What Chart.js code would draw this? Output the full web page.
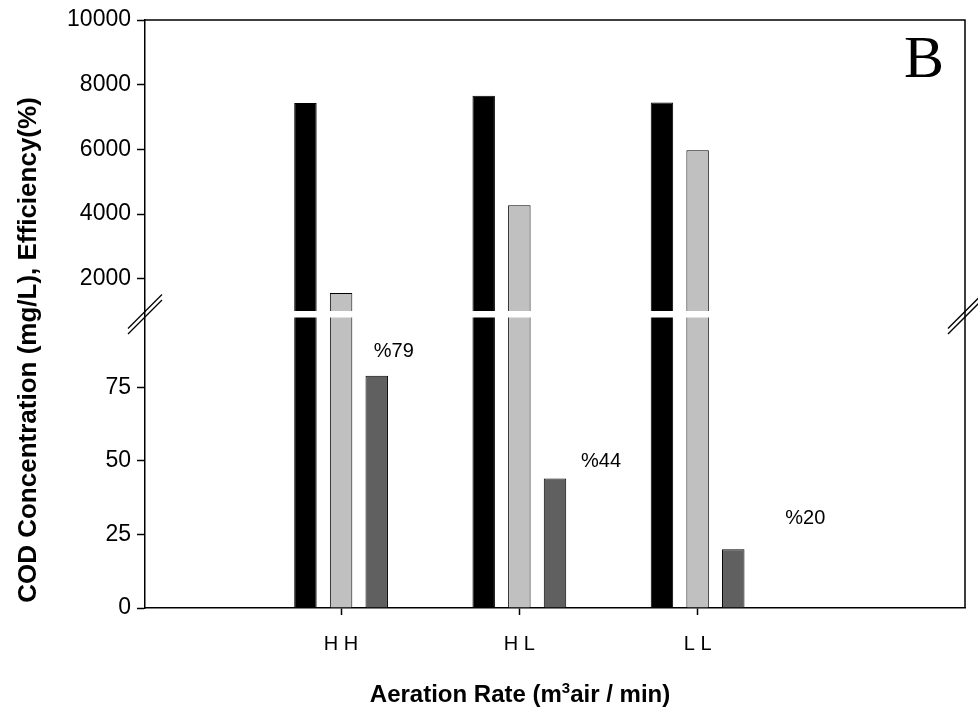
<!DOCTYPE html>
<html>
<head>
<meta charset="utf-8">
<script src="https://cdn.jsdelivr.net/npm/chart.js@4"></script>
<style>
  body { margin: 0; background: #fff; }
  canvas { display: block; }
</style>
</head>
<body>
<canvas id="myChart" width="978" height="713"></canvas>
<script>
// data
var categories = ['H H', 'H L', 'L L'];
var xPos = [1, 2, 3];
var influentCOD = [7430, 7660, 7450];
var effluentCOD = [1560, 4270, 5970];
var removal = [79, 44, 20];
var removalLabels = ['%79', '%44', '%20'];
var upperTicks = [2000, 4000, 6000, 8000, 10000];
var lowerTicks = [0, 25, 50, 75];

// broken axis: lower part 0-101, upper part 1000-10000
var LOW_MAX = 101;
var UP_MIN = 1000;
var UP_MAX = 10000;

// label placement relative to the efficiency bars (px)
var labelDx = [17, 46, 72];
var labelDy = [24, 17, 31];

Chart.defaults.font.family = '"Liberation Sans", Arial, sans-serif';
Chart.defaults.color = '#000';

function points(arr, cap) {
  return xPos.map(function (x, i) {
    return { x: x, y: cap === undefined ? arr[i] : Math.min(arr[i], cap) };
  });
}

var decor = {
  id: 'decor',
  afterDatasetsDraw: function (chart) {
    var ctx = chart.ctx;
    var a = chart.chartArea;
    var brk = chart.scales.y2.bottom;

    ctx.save();
    // white gap through the bars
    ctx.fillStyle = '#fff';
    ctx.fillRect(a.left + 1, brk, a.right - a.left - 2, 6.5);

    // frame top and right
    ctx.strokeStyle = '#000';
    ctx.lineWidth = 1.5;
    ctx.beginPath();
    ctx.moveTo(a.left, a.top);
    ctx.lineTo(a.right, a.top);
    ctx.lineTo(a.right, a.bottom);
    ctx.stroke();

    // break marks on both axes
    ctx.lineWidth = 1.3;
    [a.left, a.right].forEach(function (x) {
      [brk + 0.5, brk + 6].forEach(function (c) {
        ctx.beginPath();
        ctx.moveTo(x - 17, c + 17);
        ctx.lineTo(x + 17, c - 17);
        ctx.stroke();
      });
    });

    // efficiency labels
    var meta = chart.getDatasetMeta(4);
    ctx.fillStyle = '#000';
    ctx.font = '20px "Liberation Sans", Arial, sans-serif';
    ctx.textAlign = 'center';
    ctx.textBaseline = 'middle';
    meta.data.forEach(function (bar, i) {
      ctx.fillText(removalLabels[i], bar.x + labelDx[i], bar.y - labelDy[i]);
    });

    // panel letter
    ctx.font = '60px "Liberation Serif", "Times New Roman", serif';
    ctx.textAlign = 'left';
    ctx.textBaseline = 'alphabetic';
    ctx.fillText('B', 904, 77);

    // y title
    ctx.font = 'bold 26px "Liberation Sans", Arial, sans-serif';
    ctx.save();
    ctx.translate(29, 350);
    ctx.rotate(-Math.PI / 2);
    ctx.textAlign = 'center';
    ctx.textBaseline = 'middle';
    ctx.fillText('COD Concentration (mg/L), Efficiency(%)', 0, 0);
    ctx.restore();

    // x title with superscript
    var p1 = 'Aeration Rate (m', sup = '3', p3 = 'air / min)';
    var big = 'bold 24px "Liberation Sans", Arial, sans-serif';
    var small = 'bold 15px "Liberation Sans", Arial, sans-serif';
    ctx.font = big;
    var w1 = ctx.measureText(p1).width, w3 = ctx.measureText(p3).width;
    ctx.font = small;
    var w2 = ctx.measureText(sup).width;
    var x0 = 520 - (w1 + w2 + w3) / 2;
    var base = 702;
    ctx.textAlign = 'left';
    ctx.font = big;
    ctx.fillText(p1, x0, base);
    ctx.font = small;
    ctx.fillText(sup, x0 + w1, base - 9);
    ctx.font = big;
    ctx.fillText(p3, x0 + w1 + w2, base);
    ctx.restore();
  }
};

var tickGrid = { display: true, drawOnChartArea: false, offset: false, tickLength: 8, tickWidth: 1.5, tickColor: '#000' };
var axisBorder = { display: true, color: '#000', width: 1.5 };

const ctx = document.getElementById('myChart');

new Chart(ctx, {
  type: 'bar',
  data: {
    datasets: [
      { label: 'Influent COD', data: points(influentCOD), yAxisID: 'y2', stack: 'inf',
        backgroundColor: '#000000', borderColor: '#000000' },
      { label: 'Influent COD low', data: points(influentCOD, LOW_MAX), yAxisID: 'y', stack: 'inf',
        backgroundColor: '#000000', borderColor: '#000000' },
      { label: 'Effluent COD', data: points(effluentCOD), yAxisID: 'y2', stack: 'eff',
        backgroundColor: '#c0c0c0', borderColor: '#000000' },
      { label: 'Effluent COD low', data: points(effluentCOD, LOW_MAX), yAxisID: 'y', stack: 'eff',
        backgroundColor: '#c0c0c0', borderColor: '#000000' },
      { label: 'Efficiency', data: points(removal), yAxisID: 'y', stack: 'rem',
        backgroundColor: '#606060', borderColor: '#000000' }
    ]
  },
  options: {
    responsive: false,
    devicePixelRatio: 1,
    animation: false,
    categoryPercentage: 0.6,
    barPercentage: 0.63,
    borderWidth: 1,
    layout: { padding: { top: 20, right: 13, left: 0, bottom: 0 } },
    plugins: { legend: { display: false }, tooltip: { enabled: false } },
    scales: {
      x: {
        type: 'linear',
        offset: false,
        min: -0.1,
        max: 4.5,
        afterBuildTicks: function (s) { s.ticks = xPos.map(function (v) { return { value: v }; }); },
        ticks: {
          autoSkip: false, maxRotation: 0, padding: 17,
          font: { size: 20 },
          callback: function (v) { return categories[xPos.indexOf(v)]; }
        },
        grid: { display: true, drawOnChartArea: false, offset: false, tickLength: 7, tickWidth: 1.5, tickColor: '#000' },
        border: axisBorder,
        afterFit: function (s) { s.height = 105; }
      },
      y: {
        type: 'linear',
        position: 'left',
        stack: 'cod',
        stackWeight: 297,
        stacked: false,
        min: 0,
        max: LOW_MAX,
        afterBuildTicks: function (s) { s.ticks = lowerTicks.map(function (v) { return { value: v }; }); },
        ticks: { padding: 6, font: { size: 23 }, callback: function (v) { return String(v); } },
        grid: tickGrid,
        border: axisBorder,
        afterFit: function (s) { s.width = 145; }
      },
      y2: {
        type: 'linear',
        position: 'left',
        stack: 'cod',
        stackWeight: 291,
        stacked: false,
        min: UP_MIN,
        max: UP_MAX,
        afterBuildTicks: function (s) { s.ticks = upperTicks.map(function (v) { return { value: v }; }); },
        ticks: { padding: 6, font: { size: 23 }, callback: function (v) { return String(v); } },
        grid: tickGrid,
        border: axisBorder,
        afterFit: function (s) { s.width = 145; }
      }
    }
  },
  plugins: [decor]
});
</script>
</body>
</html>
